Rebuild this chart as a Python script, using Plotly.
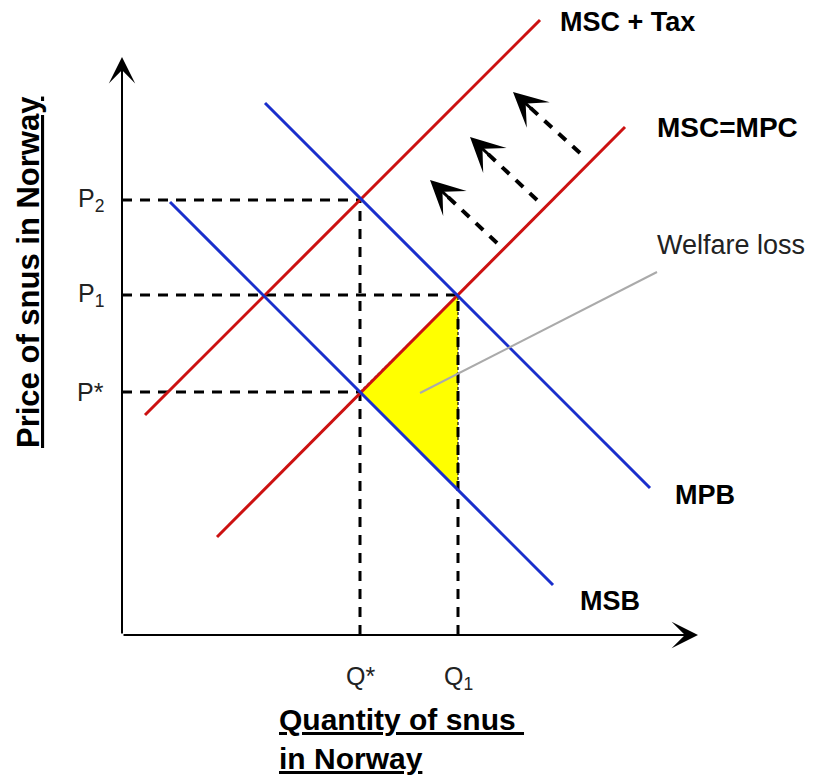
import plotly.graph_objects as go

# ---- data (quantity / price units) ----
q_levels = [23.8, 33.6]            # Q*, Q1
q_labels = ["Q*", "Q<sub>1</sub>"]
p_levels = [43.5, 34.0, 24.3]      # P2, P1, P*
p_labels = ["P<sub>2</sub>", "P<sub>1</sub>", "P*"]
p_dash_end = [23.8, 33.6, 23.8]    # where each price dashed line meets the curves
q_dash_top = [43.5, 34.0]

msc_tax_x = [2.3, 41.8]
msc_tax_y = [22.0, 61.5]
msc_mpc_x = [9.5, 50.3]
msc_mpc_y = [9.8, 50.8]
mpb_x = [14.3, 52.8]
mpb_y = [53.2, 14.7]
msb_x = [4.8, 43.1]
msb_y = [43.3, 5.0]

loss_x = [23.8, 33.6, 33.6, 23.8]
loss_y = [24.3, 34.0, 14.5, 24.3]

shift_tail_x = [37.5, 41.5, 45.8]
shift_tail_y = [39.2, 43.5, 48.2]
shift_tip_x = [30.8, 34.8, 39.1]
shift_tip_y = [45.5, 49.8, 54.3]

RED = "#cc1111"
BLUE = "#1a2fcc"
FONT = "Liberation Sans, Arial, sans-serif"

fig = go.Figure()

# welfare loss triangle
fig.add_trace(go.Scatter(x=loss_x, y=loss_y, fill="toself", fillcolor="#ffff00",
                         mode="lines", line=dict(color="black", width=1.2, dash="3px,2px"),
                         hoverinfo="skip"))

# dashed guide lines
for p, xe in zip(p_levels, p_dash_end):
    fig.add_trace(go.Scatter(x=[0, xe], y=[p, p], mode="lines",
                             line=dict(color="black", width=3, dash="10px,8px")))
for q, yt in zip(q_levels, q_dash_top):
    fig.add_trace(go.Scatter(x=[q, q], y=[0, yt], mode="lines",
                             line=dict(color="black", width=3, dash="10px,8px")))

# curves
for xs, ys, c in [(msc_tax_x, msc_tax_y, RED), (msc_mpc_x, msc_mpc_y, RED),
                  (mpb_x, mpb_y, BLUE), (msb_x, msb_y, BLUE)]:
    fig.add_trace(go.Scatter(x=xs, y=ys, mode="lines", line=dict(color=c, width=3)))

# leader line for welfare loss
fig.add_trace(go.Scatter(x=[29.8, 53.5], y=[24.2, 36.3], mode="lines",
                         line=dict(color="#aaaaaa", width=2)))

# shift arrows: dashed shafts
for tx, ty, hx, hy in zip(shift_tail_x, shift_tail_y, shift_tip_x, shift_tip_y):
    fx = hx + (tx - hx) * 0.25
    fy = hy + (ty - hy) * 0.25
    fig.add_trace(go.Scatter(x=[tx, fx], y=[ty, fy], mode="lines",
                             line=dict(color="black", width=4, dash="10px,9px")))

annotations = []
for tx, ty, hx, hy in zip(shift_tail_x, shift_tail_y, shift_tip_x, shift_tip_y):
    annotations.append(dict(x=hx, y=hy, ax=hx + (tx - hx) * 0.3, ay=hy + (ty - hy) * 0.3,
                            xref="x", yref="y", axref="x", ayref="y", text="",
                            showarrow=True, arrowhead=3, arrowwidth=3, arrowsize=1.9,
                            arrowcolor="black"))

# axes with arrow heads
annotations.append(dict(x=0, y=57.8, ax=0, ay=0, xref="x", yref="y", axref="x", ayref="y",
                        text="", showarrow=True, arrowhead=3, arrowwidth=2, arrowsize=2.2,
                        arrowcolor="black"))
annotations.append(dict(x=57.6, y=0, ax=0, ay=0, xref="x", yref="y", axref="x", ayref="y",
                        text="", showarrow=True, arrowhead=3, arrowwidth=2, arrowsize=2.2,
                        arrowcolor="black"))

def label(x, y, text, size, xanchor="left", yanchor="middle", color="black",
          angle=0, align="left"):
    annotations.append(dict(x=x, y=y, xref="x", yref="y", text=text, showarrow=False,
                            xanchor=xanchor, yanchor=yanchor, textangle=angle, align=align,
                            font=dict(family=FONT, size=size, color=color)))

label(43.6, 61.3, "<b>MSC + Tax</b>", 27)
label(53.3, 50.8, "<b>MSC=MPC</b>", 28)
label(55.1, 14.0, "<b>MPB</b>", 27)
label(45.6, 3.4, "<b>MSB</b>", 27)
label(53.3, 39.0, "Welfare loss", 27, color="#222222")

for p, t in zip(p_levels, p_labels):
    label(-1.6, p, t, 25, xanchor="right", color="#222222")
for q, t in zip(q_levels, q_labels):
    label(q, -2.5, t, 25, xanchor="center", yanchor="top", color="#222222")

label(-9.4, 36.3, "<b><u>Price of snus in Norway</u></b>", 31, xanchor="center", angle=-90)
label(15.5, -10.4, "<b><u>Quantity of snus </u><br><u>in Norway</u></b>", 30,
      xanchor="left", align="left")

fig.update_layout(
    width=814, height=778, margin=dict(l=0, r=0, t=0, b=0),
    paper_bgcolor="white", plot_bgcolor="white", showlegend=False,
    xaxis=dict(range=[-12.2, 69.2], visible=False, fixedrange=True),
    yaxis=dict(range=[-14.3, 63.5], visible=False, fixedrange=True),
    annotations=annotations,
)

fig.write_html("out.html", config={"displayModeBar": False},
               post_script="document.body.style.margin='0';document.body.style.overflow='hidden';")
